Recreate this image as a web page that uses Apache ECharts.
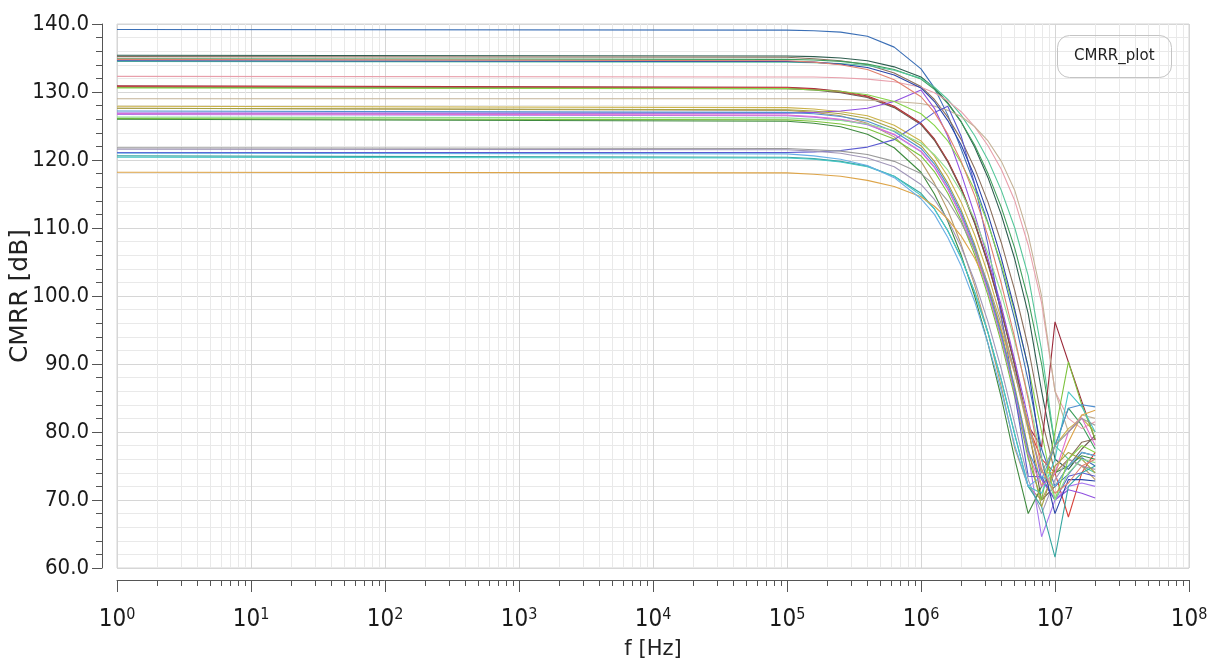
<!DOCTYPE html>
<html>
<head>
<meta charset="utf-8">
<script src="https://cdn.jsdelivr.net/npm/echarts@6.0.0/dist/echarts.min.js"></script>
<style>
  html, body { margin: 0; padding: 0; background: #ffffff; }
  #chart { width: 1215px; height: 663px; }
</style>
</head>
<body>
<div id="chart"></div>
<script>
// ---- data (frequency grid in Hz, CMRR in dB) ----
const freqHz = [1, 1e5, 1.585e5, 2.512e5, 3.981e5, 6.31e5, 1e6, 1.259e6, 1.585e6, 1.995e6, 2.512e6, 3.162e6, 3.981e6, 5.012e6, 6.31e6, 7.943e6, 1e7, 1.259e7, 1.585e7, 1.995e7];

const c01 = [139.2, 139.1, 139.0, 138.8, 138.2, 136.6, 133.4, 130.6, 126.6, 121.6, 116.4, 110.8, 104.2, 96.5, 87.5, 77.5, 72.0, 73.8, 76.2, 75.0];
const c02 = [135.4, 135.3, 135.2, 135.0, 134.6, 133.7, 132.2, 130.6, 128.4, 125.6, 121.9, 117.4, 111.9, 105.4, 97.4, 86.0, 76.0, 74.5, 77.0, 76.5];
const c03 = [135.2, 135.1, 134.9, 134.6, 134.0, 132.8, 130.8, 128.9, 126.3, 123.0, 118.8, 113.8, 107.8, 100.8, 92.5, 82.0, 74.0, 76.0, 78.5, 79.0];
const c04 = [134.9, 134.8, 134.7, 134.5, 134.1, 133.3, 131.9, 130.4, 128.3, 125.6, 122.2, 118.0, 113.0, 107.0, 99.5, 90.0, 78.0, 83.5, 81.0, 77.5];
const c05 = [134.5, 134.4, 134.3, 134.2, 133.9, 133.2, 132.0, 130.7, 128.9, 126.6, 123.6, 120.0, 115.5, 110.0, 103.0, 92.0, 78.0, 76.0, 75.0, 74.0];
const c06 = [132.3, 132.2, 132.2, 132.1, 131.9, 131.5, 130.7, 129.9, 128.7, 127.1, 124.9, 122.1, 118.6, 114.0, 107.5, 99.0, 86.0, 82.0, 80.5, 81.5];
const c07 = [130.9, 130.7, 130.5, 130.1, 129.4, 127.9, 125.4, 123.1, 119.9, 115.9, 110.9, 104.9, 97.9, 89.9, 80.9, 77.8, 96.2, 90.3, 84.5, 78.8];
const c08 = [130.8, 130.6, 130.4, 130.0, 129.3, 127.8, 125.3, 123.0, 119.8, 115.8, 110.8, 104.8, 97.8, 89.8, 80.8, 76.0, 74.0, 67.5, 74.0, 77.0];
const c09 = [130.7, 130.5, 130.3, 129.9, 129.2, 127.7, 125.2, 122.9, 119.7, 115.7, 110.7, 104.7, 97.7, 89.7, 80.7, 70.0, 72.0, 75.0, 77.5, 79.5];
const c10 = [129.0, 129.0, 129.0, 128.9, 128.8, 128.6, 128.3, 127.9, 127.3, 126.4, 124.9, 122.8, 119.8, 115.5, 109.0, 100.0, 86.0, 80.0, 82.5, 82.0];
const c11 = [127.9, 127.7, 127.5, 127.1, 126.5, 125.1, 122.8, 120.6, 117.6, 113.8, 109.0, 103.2, 96.5, 88.7, 80.2, 72.0, 78.0, 80.5, 82.0, 80.0];
const c12 = [127.6, 127.3, 127.0, 126.5, 125.4, 123.4, 119.8, 116.6, 112.6, 107.6, 101.6, 94.6, 86.6, 77.6, 72.0, 70.0, 74.0, 76.0, 75.0, 73.0];
const c13 = [126.9, 126.9, 127.0, 127.2, 127.6, 128.6, 130.3, 127.6, 123.5, 118.0, 112.0, 105.5, 98.5, 90.5, 82.0, 73.0, 70.0, 71.5, 71.0, 70.3];
const c14 = [126.7, 126.5, 126.3, 125.9, 125.2, 123.7, 121.2, 118.9, 115.7, 111.7, 106.7, 100.7, 93.7, 85.7, 76.7, 64.6, 70.0, 72.0, 72.5, 72.0];
const c15 = [126.1, 125.9, 125.7, 125.3, 124.6, 123.1, 120.6, 118.3, 115.1, 111.1, 106.1, 100.1, 93.1, 85.1, 76.1, 70.0, 80.0, 90.3, 84.0, 79.0];
const c16 = [126.0, 125.7, 125.4, 124.9, 123.8, 121.8, 118.2, 115.0, 111.0, 106.0, 100.0, 93.0, 85.0, 76.0, 68.0, 72.0, 74.0, 75.0, 76.5, 76.0];
const c17 = [121.1, 121.1, 121.2, 121.4, 121.9, 123.0, 125.6, 127.0, 127.9, 123.5, 116.5, 107.5, 97.0, 85.5, 73.5, 73.4, 70.0, 73.5, 74.0, 73.5];
const c18 = [121.6, 121.5, 121.3, 121.0, 120.3, 119.0, 116.4, 114.2, 111.2, 107.2, 102.2, 96.2, 89.2, 81.2, 73.0, 68.0, 73.0, 76.0, 75.0, 74.5];
const c19 = [120.6, 120.4, 120.2, 119.8, 119.1, 117.6, 115.1, 112.8, 109.6, 105.6, 100.6, 94.6, 87.6, 79.6, 72.0, 69.0, 61.6, 72.0, 74.0, 75.0];
const c20 = [120.4, 120.3, 120.1, 119.7, 119.0, 117.6, 114.8, 112.8, 109.6, 105.6, 100.6, 94.6, 87.6, 79.6, 72.0, 71.0, 76.0, 85.9, 83.7, 80.0];
const c21 = [118.2, 118.1, 117.9, 117.6, 117.0, 116.1, 114.6, 113.2, 111.3, 108.8, 105.6, 101.5, 95.0, 88.5, 81.5, 74.0, 74.0, 78.5, 82.5, 83.2];
const c22 = [121.0, 120.9, 120.6, 120.1, 119.2, 117.4, 114.3, 112.0, 108.6, 104.4, 99.2, 93.0, 86.0, 78.0, 72.0, 73.5, 72.0, 75.0, 77.0, 76.5];
const c23 = [126.8, 126.6, 126.4, 126.0, 125.3, 123.8, 121.3, 119.0, 115.8, 111.8, 106.8, 100.8, 93.8, 85.8, 76.8, 72.0, 74.0, 80.0, 82.1, 78.0];
const c24 = [130.6, 130.5, 130.3, 130.1, 129.6, 128.6, 126.8, 125.1, 122.8, 119.6, 115.6, 110.6, 104.6, 97.6, 89.6, 80.0, 70.0, 76.0, 78.0, 77.0];
const c25 = [127.6, 127.4, 127.2, 126.8, 126.1, 124.6, 122.1, 119.8, 116.6, 112.6, 107.6, 101.6, 94.6, 86.6, 77.6, 69.0, 75.0, 77.0, 76.0, 74.0];
const c26 = [134.6, 134.5, 134.4, 134.1, 133.6, 132.5, 130.6, 128.6, 125.8, 122.2, 117.6, 112.0, 105.5, 98.0, 89.5, 76.0, 68.0, 73.0, 73.0, 72.8];
const c27 = [127.2, 127.0, 126.8, 126.4, 125.7, 124.2, 121.7, 119.4, 116.2, 112.2, 107.2, 101.2, 94.2, 86.2, 77.2, 73.0, 78.0, 83.5, 84.0, 83.7];
const c28 = [126.3, 126.2, 126.0, 125.8, 125.3, 124.3, 122.5, 120.8, 118.5, 115.3, 111.3, 106.3, 100.3, 93.3, 85.3, 76.0, 70.0, 74.0, 76.0, 75.5];
const c29 = [121.8, 121.7, 121.5, 121.3, 120.8, 119.8, 118.0, 116.3, 114.0, 110.8, 106.8, 101.8, 95.8, 88.8, 80.8, 74.0, 78.0, 80.0, 82.0, 81.0];
const c30 = [134.8, 134.6, 134.4, 134.0, 133.3, 131.8, 129.3, 127.0, 123.8, 119.8, 114.8, 108.8, 101.8, 93.8, 84.8, 74.5, 71.0, 72.5, 75.0, 76.0];

const curves = [c01, c02, c03, c04, c05, c06, c07, c08, c09, c10, c11, c12, c13, c14, c15,
                c16, c17, c18, c19, c20, c21, c22, c23, c24, c25, c26, c27, c28, c29, c30];
const curveColors = ['#3b6fb6', '#2f5e50', '#8a6f5c', '#3f9e5c', '#55c79a', '#e8a0ac', '#9b2a3a', '#d8443c',
                     '#6b5a52', '#c4b296', '#cbb24a', '#b89a6a', '#9050e0', '#a878f0', '#7cc23c', '#3f8a3f',
                     '#5a5ad0', '#a096b8', '#35a6a0', '#48c6c6', '#dda448', '#6aaee6', '#e070d0', '#86d448',
                     '#a6a244', '#2a44a8', '#4f8fd0', '#8fde8f', '#999999', '#e0806e'];

// ---- axis labels ----
const xExponents = ['0', '1', '2', '3', '4', '5', '6', '7', '8'];
const xDecades = [0, 1, 2, 3, 4, 5, 6, 7];
const xMinorMultipliers = [2, 3, 4, 5, 6, 7, 8, 9];
const yTicks = [60, 70, 80, 90, 100, 110, 120, 130, 140];

const minorPositions = [];
xDecades.forEach(d => xMinorMultipliers.forEach(m => minorPositions.push(d + Math.log10(m))));

const labelFont = 'DejaVu Sans Condensed, DejaVu Sans, sans-serif';
const axisColor = '#555555';

const series = curves.map((vals, i) => ({
  type: 'line',
  name: 'CMRR_' + (i + 1),
  data: freqHz.map((f, k) => [f, vals[k]]),
  showSymbol: false,
  symbol: 'none',
  lineStyle: { width: 1.1, color: curveColors[i] },
  itemStyle: { color: curveColors[i] },
  emphasis: { disabled: true },
  animation: false
}));

const chart = echarts.init(document.getElementById('chart'), null, { renderer: 'canvas' });
chart.setOption({
  animation: false,
  backgroundColor: '#ffffff',
  title: {
    text: 'CMRR_plot',
    left: 1057, top: 35,
    padding: [14, 17],
    borderWidth: 1, borderColor: '#c4c4c4', borderRadius: 12,
    textStyle: { fontFamily: 'DejaVu Sans, sans-serif', fontSize: 15, fontWeight: 'normal', color: '#222222' }
  },
  grid: { left: 117, right: 26, top: 24, bottom: 95, show: true, borderColor: '#d4d4d4', borderWidth: 1,
          outerBoundsMode: 'none', containLabel: false },
  xAxis: [
    {
      type: 'log', logBase: 10, min: 1, max: 1e8,
      position: 'bottom', offset: 12,
      name: 'f [Hz]', nameLocation: 'middle', nameGap: 59, nameMoveOverlap: false,
      nameTextStyle: { fontFamily: 'DejaVu Sans, sans-serif', fontSize: 21, color: '#222222' },
      axisLine: { show: true, onZero: false, lineStyle: { color: axisColor, width: 1 } },
      axisTick: { show: true, length: 12, lineStyle: { color: axisColor } },
      minorTick: { show: false },
      splitLine: { show: true, lineStyle: { color: '#d6d6d6', width: 1 } },
      axisLabel: {
        margin: 27,
        formatter: (v, i) => '{b|10}{s|' + xExponents[i] + '}',
        rich: {
          b: { fontFamily: labelFont, fontSize: 24, color: '#1a1a1a', lineHeight: 26 },
          s: { fontFamily: labelFont, fontSize: 16, color: '#1a1a1a', verticalAlign: 'top', lineHeight: 16 }
        }
      }
    },
    {
      type: 'value', min: 0, max: 8,
      position: 'bottom', offset: 12,
      axisLine: { show: false, onZero: false },
      axisTick: { show: true, customValues: minorPositions, length: 6, lineStyle: { color: axisColor } },
      axisLabel: { show: false },
      splitLine: { show: true, lineStyle: { color: '#e9e9e9', width: 1 } }
    }
  ],
  yAxis: {
    type: 'value', min: yTicks[0], max: yTicks[yTicks.length - 1], interval: 10,
    position: 'left', offset: 15,
    name: 'CMRR [dB]', nameLocation: 'middle', nameGap: 69, nameMoveOverlap: false,
    nameTextStyle: { fontFamily: 'DejaVu Sans, sans-serif', fontSize: 25, color: '#222222' },
    axisLine: { show: true, onZero: false, lineStyle: { color: axisColor, width: 1 } },
    axisTick: { show: true, length: 10, lineStyle: { color: axisColor } },
    minorTick: { show: true, splitNumber: 5, length: 6, lineStyle: { color: axisColor } },
    splitLine: { show: true, lineStyle: { color: '#d6d6d6', width: 1 } },
    minorSplitLine: { show: true, lineStyle: { color: '#e9e9e9', width: 1 } },
    axisLabel: {
      margin: 13,
      fontFamily: labelFont, fontSize: 22, color: '#1a1a1a',
      formatter: v => v.toFixed(1)
    }
  },
  series: series
});
</script>
</body>
</html>
